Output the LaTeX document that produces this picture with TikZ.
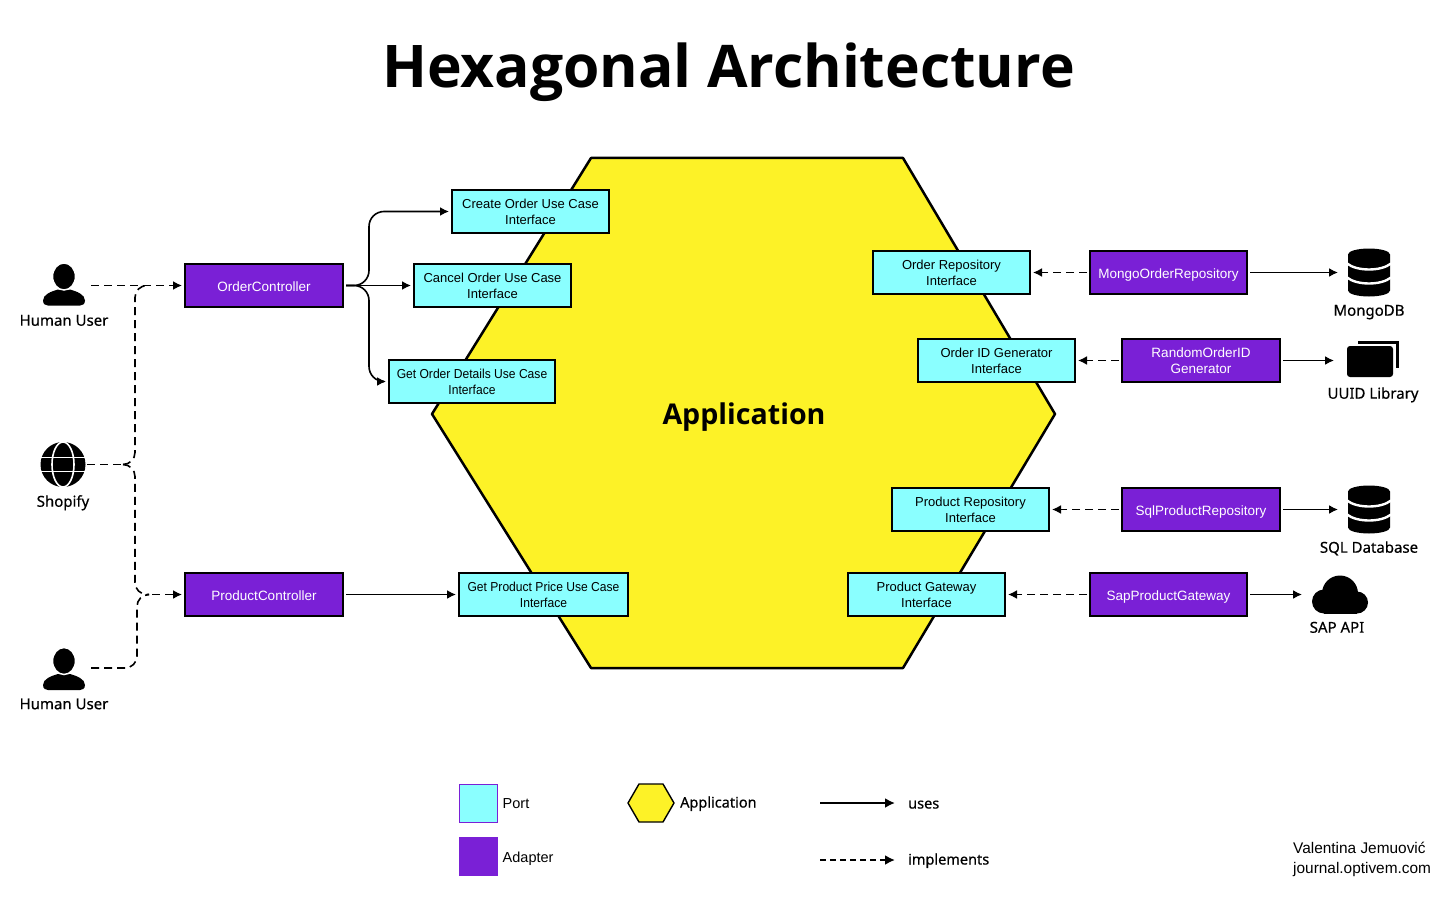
\documentclass[tikz,border=0pt]{standalone}
\usepackage{fontspec}
\setmainfont{Liberation Sans}
\newfontfamily\headfont{Open Sans}
\newfontfamily\lblfont[FakeBold=0.5]{Noto Sans}
\newfontfamily\tightfont[FakeStretch=0.93]{Liberation Sans}
\usetikzlibrary{arrows.meta,positioning}
\definecolor{portcyan}{HTML}{8AFFFF}
\definecolor{adapviolet}{HTML}{7A20D6}
\definecolor{appyellow}{HTML}{FDF227}
\newcommand{\personicon}[1]{\begin{scope}[shift={#1}]
\fill (-21,15) .. controls (-21,9) and (-13,6) .. (-6,4) -- (6,4) .. controls (13,6) and (21,9) .. (21,15) .. controls (21,19) and (18,20) .. (16,20) -- (-16,20) .. controls (-18,20) and (-21,19) .. (-21,15) -- cycle;
\draw[white,line width=1.5pt,fill=black] (0,-9) ellipse [x radius=11.5,y radius=13.5];
\end{scope}}
\newcommand{\dbicon}[1]{\begin{scope}[shift={#1}]
\fill (-21,-18) arc [start angle=180,end angle=360,x radius=21,y radius=6] -- (21,18) arc [start angle=0,end angle=180,x radius=21,y radius=6] -- cycle;
\draw[white,line width=2.4pt] (-22,-9) .. controls (-12,-1) and (12,-1) .. (22,-9);
\draw[white,line width=2.4pt] (-22,5) .. controls (-12,13) and (12,13) .. (22,5);
\end{scope}}
\begin{document}
\begin{tikzpicture}[x=1pt,y=-1pt,
  port/.style={draw,line width=1.1pt,fill=portcyan,minimum width=157pt,minimum height=43pt,inner sep=0pt,outer sep=3pt,align=center,font=\fontsize{13}{16}\selectfont},
  adap/.style={draw,line width=1.1pt,fill=adapviolet,text=white,minimum width=158pt,minimum height=43pt,inner sep=0pt,outer sep=3pt,align=center,font=\fontsize{13.5}{16}\selectfont},
  oneline/.style={text height=11pt,text depth=0pt},
  tight/.style={font=\tightfont\fontsize{13}{16}\selectfont},
  uses/.style={-{Latex[length=9pt,width=9pt]},line width=1.6pt},
  impl/.style={uses,dash pattern=on 8pt off 5pt},
  implline/.style={line width=1.6pt,dash pattern=on 8pt off 5pt},
  icon/.style={minimum height=44pt,inner sep=0pt,outer sep=0pt},
  lbl/.style={inner sep=0pt,text height=12pt,text depth=4pt,font=\lblfont\fontsize{15}{16}\selectfont},
  leg/.style={inner sep=0pt,anchor=west,yshift=-1pt,text height=11pt,text depth=2pt,font=\fontsize{14.5}{16}\selectfont},
  legb/.style={leg,font=\lblfont\fontsize{14.5}{16}\selectfont}]
\useasboundingbox (0,0) rectangle (1456,912);
\node[font=\headfont\bfseries\fontsize{58.8}{64}\selectfont,inner sep=0pt,text height=43pt,text depth=0pt] (title) at (728.5,66) {Hexagonal Architecture};
\draw[line width=2.5pt,fill=appyellow,line join=round] (591,158) -- (903,158) -- (1055,414) -- (903,668) -- (591,668) -- (432,414) -- cycle;
\node[font=\headfont\bfseries\fontsize{28.6}{32}\selectfont,inner sep=0pt,text height=21pt,text depth=0pt] (app) at (744,414) {Application};
\node[adap,oneline] (orderctl) at (264,285.5) {OrderController};
\node[adap,oneline] (productctl) at (264,594.5) {ProductController};
\node[port] (createuc) at (530.5,211.5) {Create Order Use Case\\Interface};
\node[port,right=65pt of orderctl] (canceluc) {Cancel Order Use Case\\Interface};
\node[port,tight,minimum width=166pt] (getuc) at (472,381.5) {Get Order Details Use Case\\Interface};
\node[port,tight,minimum width=169pt,right=110pt of productctl] (priceuc) {Get Product Price Use Case\\Interface};
\node[port] (orderrepo) at (951.5,272.5) {Order Repository\\Interface};
\node[port] (idgen) at (996.5,360.5) {Order ID Generator\\Interface};
\node[port] (productrepo) at (970.5,509.5) {Product Repository\\Interface};
\node[port] (productgw) at (926.5,594.5) {Product Gateway\\Interface};
\node[adap,oneline,minimum width=157pt,right=54pt of orderrepo] (mongorepo) {MongoOrderRepository};
\node[adap,right=41pt of idgen] (randomid) {RandomOrderID\\Generator};
\node[adap,oneline,right=67pt of productrepo] (sqlrepo) {SqlProductRepository};
\node[adap,oneline,minimum width=157pt,right=79pt of productgw] (sapgw) {SapProductGateway};
\node[icon,minimum width=54pt] (userA) at (64,285.5) {};
\node[icon,minimum width=54pt] (userB) at (64,668) {};
\node[icon,minimum width=48pt] (shopify) at (63,464.5) {};
\node[icon,minimum width=62pt,right=88pt of mongorepo] (mongodb) {};
\node[icon,minimum width=76pt,right=51pt of randomid] (uuid) {};
\node[icon,minimum width=62pt,right=55pt of sqlrepo] (sqldb) {};
\node[icon,minimum width=76pt,right=52pt of sapgw] (sapapi) {};
\personicon{(userA)}
\personicon{([yshift=-2pt]userB)}
\begin{scope}[shift={(shopify)}]
\fill (0,0) circle [radius=22.5];
\draw[white,line width=1.6pt] (-23,-7) -- (23,-7) (-23,7) -- (23,7);
\draw[white,line width=1.6pt] (0,0) ellipse [x radius=11,y radius=22.5];
\end{scope}
\dbicon{(mongodb)}
\dbicon{(sqldb)}
\begin{scope}[shift={(uuid)}]
\fill[rounded corners=3pt] (-25,-14.5) rectangle (21,16.5);
\draw[line width=3pt] (-14,-18.5) -- (25,-18.5) -- (25,7);
\end{scope}
\begin{scope}[shift={(sapapi)}]
\fill (0,-1) circle [radius=18];
\fill (-16,7) circle [radius=12];
\fill (17,8) circle [radius=11];
\fill (-16,-1) rectangle (17,19);
\end{scope}
\node[lbl,below=6pt of userA] (userAlbl) {Human User};
\node[lbl,below=7pt of userB] (userBlbl) {Human User};
\node[lbl,below=8pt of shopify] (shopifylbl) {Shopify};
\node[lbl,below=9pt of mongodb] (mongolbl) {MongoDB};
\node[lbl,below=4pt of uuid,xshift=1pt] (uuidlbl) {UUID Library};
\node[lbl,below=9pt of sqldb] (sqllbl) {SQL Database};
\node[lbl,below=4pt of sapapi,xshift=-3pt] (saplbl) {SAP API};
\coordinate[right=36pt of shopify.east] (shopjoin);
\coordinate[left=33pt of orderctl.west] (orderjoin);
\coordinate[left=33pt of productctl.west] (productjoin);
\draw[impl] (userA.east) -- (orderctl.west);
\draw[implline] (shopify.east) -- (shopjoin);
\draw[implline,rounded corners=12pt] (shopjoin) -- ++(12,0) |- (orderjoin);
\draw[implline,rounded corners=12pt] (shopjoin) -- ++(12,0) |- (productjoin);
\draw[implline,rounded corners=12pt] (userB.east) -- ++(46,0) |- (productjoin);
\draw[impl] ([xshift=3pt]productjoin) -- (productctl.west);
\draw[uses,rounded corners=15pt] (orderctl.east) -- ++(23,0) |- (createuc.west);
\draw[uses] (orderctl.east) -- (canceluc.west);
\draw[uses,rounded corners=15pt] (orderctl.east) -- ++(23,0) |- (getuc.west);
\draw[uses] (productctl.east) -- (priceuc.west);
\draw[impl] (mongorepo.west) -- (orderrepo.east);
\draw[impl] (randomid.west) -- (idgen.east);
\draw[impl] (sqlrepo.west) -- (productrepo.east);
\draw[impl] (sapgw.west) -- (productgw.east);
\draw[uses] (mongorepo.east) -- (mongodb.west);
\draw[uses] (randomid.east) -- (uuid.west);
\draw[uses] (sqlrepo.east) -- (sqldb.west);
\draw[uses] (sapgw.east) -- (sapapi.west);
\node[draw=adapviolet,line width=1pt,fill=portcyan,minimum size=38pt,inner sep=0pt] (portkey) at (478,803) {};
\node[leg,right=5pt of portkey] (portlbl) {Port};
\node[draw=adapviolet,line width=1pt,fill=adapviolet,minimum size=38pt,inner sep=0pt] (adapkey) at (478,856) {};
\node[leg,yshift=-1pt,right=5pt of adapkey] (adaplbl) {Adapter};
\draw[line width=1.4pt,fill=appyellow,line join=round] (628,803) -- (639,784) -- (663,784) -- (674,803) -- (663,822) -- (639,822) -- cycle;
\node[legb] (applbl) at (680,802) {Application};
\node[legb] (useslbl) at (908,803) {uses};
\node[legb] (impllbl) at (908,859) {implements};
\coordinate[left=88pt of useslbl.west,yshift=1pt] (usesfrom);
\coordinate[left=88pt of impllbl.west] (implfrom);
\coordinate[left=13pt of useslbl.west,yshift=1pt] (usesto);
\coordinate[left=13pt of impllbl.west] (implto);
\draw[-{Latex[length=10pt,width=10pt]},line width=2pt] (usesfrom) -- (usesto);
\draw[-{Latex[length=10pt,width=10pt]},line width=2pt,dash pattern=on 6pt off 4pt] (implfrom) -- (implto);
\node[inner sep=0pt,anchor=west,font=\fontsize{15.4}{20}\selectfont,align=left] (credit) at (1293,859) {Valentina Jemuović\\journal.optivem.com};
\end{tikzpicture}
\end{document}
